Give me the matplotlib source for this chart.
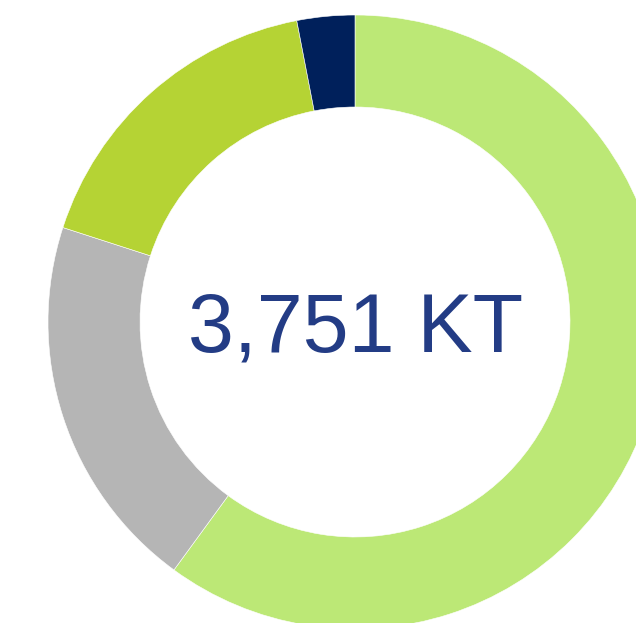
import matplotlib
matplotlib.use("Agg")
import matplotlib.pyplot as plt

categories = ["Segment A", "Segment B", "Segment C", "Segment D"]
values_kt = [2252, 748, 637, 114]
colors = ["#bce876", "#b5b5b5", "#b5d334", "#00205b"]
center_label = "3,751 KT"

W, H = 636, 623
fig = plt.figure(figsize=(W / 100, H / 100), dpi=100)
ax = fig.add_axes([0, 0, 1, 1])
cx, cy = 355, H - 322
R, ring = 307, 92
ax.pie(values_kt, colors=colors, radius=R, center=(cx, cy), startangle=90,
       counterclock=False,
       wedgeprops=dict(width=ring, linewidth=0.4, edgecolor="white"))
ax.set_xlim(0, W)
ax.set_ylim(0, H)
ax.set_aspect("auto")
ax.axis("off")
ax.text(cx + 1, cy - 8, center_label, ha="center", va="center", fontsize=59.5,
        color="#233c85", family=["Liberation Sans", "DejaVu Sans"])
fig.savefig("out.png", dpi=100)
